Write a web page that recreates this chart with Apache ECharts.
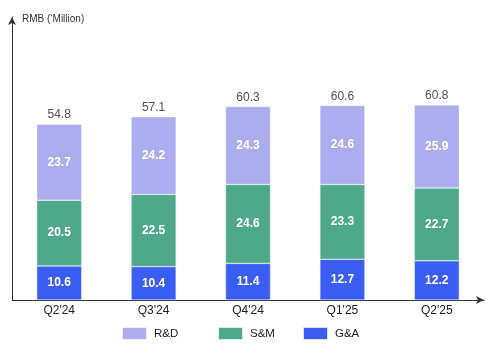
<!DOCTYPE html>
<html><head><meta charset="utf-8">
<script src="https://cdn.jsdelivr.net/npm/echarts@6/dist/echarts.min.js"></script>
<style>html,body{margin:0;padding:0;background:#fff}#c{width:500px;height:352px}</style>
</head><body><div id="c"></div>
<script>
const categories = ["Q2'24", "Q3'24", "Q4'24", "Q1'25", "Q2'25"];
const ga = [10.6, 10.4, 11.4, 12.7, 12.2];
const sm = [20.5, 22.5, 24.6, 23.3, 22.7];
const rd = [23.7, 24.2, 24.3, 24.6, 25.9];
const totals = [54.8, 57.1, 60.3, 60.6, 60.8];
const legendNames = ['R&D', 'S&M', 'G&A'];

const font = 'Liberation Sans';
const chart = echarts.init(document.getElementById('c'), null, {renderer: 'canvas'});
const inner = {show: true, position: 'inside', color: '#fff', fontWeight: 'bold', fontSize: 12, fontFamily: font};
const item = c => ({color: c, borderColor: 'rgba(255,255,255,0.8)', borderWidth: 0.5});
const legendLeft = [116, 212, 297];
chart.setOption({
  animation: false,
  backgroundColor: '#fff',
  grid: {left: 12, right: 16, top: 17, bottom: 52},
  legend: legendNames.map((n, i) => ({
    data: [n], left: legendLeft[i], top: 321, itemWidth: 25, itemHeight: 13,
    icon: 'rect', textStyle: {fontSize: 11.5, color: '#222', fontFamily: font, padding: [0, 0, 0, 2]}
  })),
  graphic: [{type: 'text', left: 22, top: 14, style: {text: 'RMB (‘Million)', fontSize: 10, fill: '#333', fontFamily: font}}],
  xAxis: {
    type: 'category', data: categories,
    axisLine: {lineStyle: {color: '#333', width: 1}, symbol: ['none', 'arrow'], symbolSize: [6, 8]},
    axisTick: {show: false},
    axisLabel: {color: '#222', fontSize: 12, margin: 5, fontFamily: font}
  },
  yAxis: {
    type: 'value', min: 0, max: 88.2,
    axisLine: {show: true, lineStyle: {color: '#333', width: 1}, symbol: ['none', 'arrow'], symbolSize: [6, 8]},
    axisTick: {show: false}, axisLabel: {show: false}, splitLine: {show: false}
  },
  series: [
    {name: 'G&A', type: 'bar', stack: 's', barWidth: 45, data: ga, itemStyle: item('#3B5EF2'), label: inner},
    {name: 'S&M', type: 'bar', stack: 's', barWidth: 45, data: sm, itemStyle: item('#4EA88A'), label: inner},
    {name: 'R&D', type: 'bar', stack: 's', barWidth: 45, data: rd, itemStyle: item('#ABADEE'), label: inner},
    {name: 'total', type: 'scatter', data: totals, symbolSize: 0, silent: true,
      label: {show: true, position: 'top', distance: 3, color: '#222', fontSize: 12, fontFamily: font}}
  ]
});
</script></body></html>
